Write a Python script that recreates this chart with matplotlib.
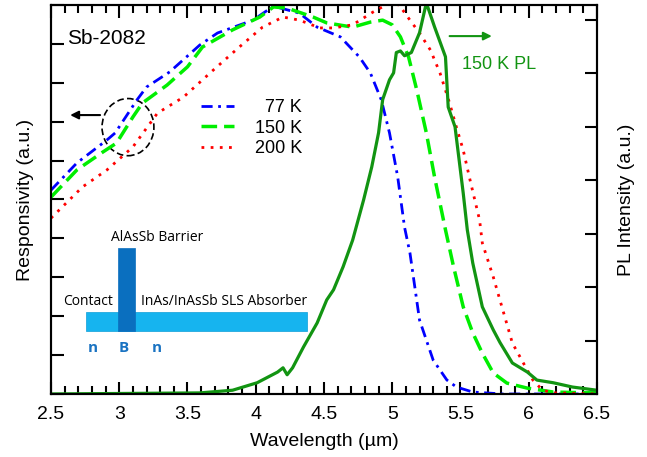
import matplotlib
matplotlib.use("Agg")
import matplotlib.pyplot as plt
from matplotlib.patches import Rectangle, Ellipse
from matplotlib.ticker import MultipleLocator

plt.rcParams['font.family'] = ['Liberation Sans', 'DejaVu Sans']

# responsivity spectra (a.u., left axis 0-10)
wl_77 = [2.5, 2.69, 2.91, 2.97, 3.13, 3.20, 3.37, 3.59, 3.72, 3.98, 4.13, 4.32, 4.45,
         4.62, 4.76, 4.84, 4.92, 4.98, 5.04, 5.09, 5.13, 5.20, 5.30, 5.40, 5.47, 5.59, 5.81, 6.5]
r_77 = [5.24, 5.94, 6.53, 6.71, 7.56, 7.89, 8.28, 8.97, 9.28, 9.61, 9.97, 9.79, 9.43,
        9.18, 8.66, 8.25, 7.56, 6.71, 5.58, 4.29, 3.62, 1.90, 0.87, 0.36, 0.18, 0.05, 0.0, 0.0]

wl_150 = [2.5, 2.69, 2.88, 2.98, 3.10, 3.17, 3.35, 3.50, 3.61, 3.83, 4.03, 4.13, 4.23, 4.42,
          4.52, 4.71, 4.84, 4.93, 5.00, 5.06, 5.12, 5.18, 5.25, 5.31, 5.39, 5.45, 5.52, 5.59,
          5.66, 5.74, 5.84, 5.99, 6.18, 6.43, 6.5]
r_150 = [5.06, 5.76, 6.22, 6.45, 7.12, 7.48, 7.94, 8.41, 8.92, 9.36, 9.69, 9.95, 9.92, 9.69,
         9.54, 9.43, 9.56, 9.61, 9.49, 9.18, 8.66, 7.81, 6.71, 5.58, 4.22, 3.26, 2.24, 1.57,
         1.05, 0.54, 0.28, 0.15, 0.05, 0.03, 0.05]

wl_200 = [2.5, 2.73, 2.91, 3.10, 3.28, 3.47, 3.69, 3.88, 4.05, 4.20, 4.32, 4.47, 4.57, 4.71,
          4.86, 4.98, 5.05, 5.13, 5.20, 5.28, 5.35, 5.42, 5.47, 5.52, 5.57, 5.64, 5.66, 5.74,
          5.81, 5.88, 5.96, 6.03, 6.10, 6.18, 6.5]
r_200 = [4.52, 5.32, 5.76, 6.35, 7.22, 7.63, 8.33, 8.92, 9.43, 9.69, 9.61, 9.41, 9.41, 9.49,
         9.82, 10.05, 10.0, 9.61, 9.28, 8.84, 8.25, 7.48, 6.86, 6.27, 5.50, 4.47, 3.88, 3.01,
         2.16, 1.31, 0.80, 0.36, 0.10, 0.03, 0.0]

# 150 K photoluminescence (a.u., right axis)
wl_pl = [2.5, 3.59, 3.83, 4.01, 4.16, 4.20, 4.23, 4.27, 4.35, 4.45, 4.52, 4.57, 4.64, 4.71,
         4.79, 4.85, 4.90, 4.93, 4.98, 5.01, 5.03, 5.06, 5.09, 5.14, 5.20, 5.25, 5.31, 5.39,
         5.41, 5.46, 5.52, 5.55, 5.59, 5.66, 5.74, 5.79, 5.88, 5.99, 6.06, 6.18, 6.32, 6.5]
pl = [0.0, 0.02, 0.07, 0.21, 0.41, 0.49, 0.36, 0.49, 0.88, 1.33, 1.76, 1.95, 2.38, 2.88,
      3.63, 4.25, 4.89, 5.51, 5.88, 6.01, 6.39, 6.42, 6.33, 6.39, 6.76, 7.32, 6.87, 6.31,
      5.37, 5.00, 3.76, 3.07, 2.45, 1.63, 1.20, 0.96, 0.58, 0.41, 0.26, 0.21, 0.13, 0.07]

fig = plt.figure(figsize=(6.47, 4.57), dpi=100)
ax = fig.add_axes([0.0788, 0.1379, 0.8439, 0.8512])
ax2 = ax.twinx()

ax.plot(wl_77, r_77, color='#0000ff', lw=2, ls=(0, (4, 2, 1, 2)), label='  77 K')
ax.plot(wl_150, r_150, color='#00ee00', lw=2.5, ls=(0, (4.5, 2)), label='150 K')
ax.plot(wl_200, r_200, color='#ff0000', lw=2, ls=(0, (1, 2.3)), label='200 K')
ax2.plot(wl_pl, pl, color='#129412', lw=2.3)

ax.set_xlim(2.5, 6.5)
ax.set_ylim(0, 10)
ax2.set_ylim(0, 7.28)
ax.xaxis.set_minor_locator(MultipleLocator(0.1))
ax.yaxis.set_major_locator(MultipleLocator(1))
ax2.yaxis.set_major_locator(MultipleLocator(1))
ax.set_xticks([2.5, 3, 3.5, 4, 4.5, 5, 5.5, 6, 6.5])
ax.set_xticklabels(['2.5', '3', '3.5', '4', '4.5', '5', '5.5', '6', '6.5'])
ax.tick_params(axis='x', which='major', direction='in', top=True, length=9, width=1.5,
               labelsize=14, pad=9)
ax.tick_params(axis='x', which='minor', direction='in', top=True, length=5.5, width=1.5)
ax.tick_params(axis='y', which='both', direction='in', length=9, width=1.5, labelleft=False)
ax2.tick_params(axis='y', which='both', direction='in', length=9, width=1.5, labelright=False)
for a in (ax, ax2):
    for s in a.spines.values():
        s.set_linewidth(1.5)

ax.set_xlabel('Wavelength (\u00b5m)', fontsize=14, labelpad=7)
ax.set_ylabel('Responsivity (a.u.)', fontsize=14, labelpad=12)
ax2.set_ylabel('PL Intensity (a.u.)', fontsize=14, labelpad=15)

leg = ax.legend(loc='upper left', bbox_to_anchor=(0.245, 0.80), frameon=False, fontsize=13,
                handlelength=1.8, handletextpad=1.2, labelspacing=0.2)

ax.text(2.62, 9.15, 'Sb-2082', fontsize=15, va='center')
ax.text(5.51, 8.46, '150 K PL', fontsize=13, color='#129412', va='center')

# arrows and circle
ax.annotate('', xy=(2.62, 7.17), xytext=(2.88, 7.17),
            arrowprops=dict(arrowstyle='-|>', color='black', lw=1.5, mutation_scale=12))
ax.annotate('', xy=(5.75, 9.2), xytext=(5.40, 9.2),
            arrowprops=dict(arrowstyle='-|>', color='#129412', lw=1.5, mutation_scale=12))
ax.add_patch(Ellipse((3.064, 6.86), 0.38, 1.47, fill=False, ls=(0, (4, 2)), lw=1.2, color='black'))

# device schematic inset
ax.add_patch(Rectangle((2.756, 1.62), 1.619, 0.49, facecolor='#16b4ef', edgecolor='#0e9fd8', lw=0.5, zorder=3))
ax.add_patch(Rectangle((2.991, 1.62), 0.124, 2.13, facecolor='#0a6fbf', edgecolor='#0a6fbf', lw=0.5, zorder=4))
ax.text(3.28, 4.01, 'AlAsSb Barrier', fontsize=10, family='Open Sans', ha='center', va='center')
ax.text(2.77, 2.37, 'Contact', fontsize=10, family='Open Sans', ha='center', va='center')
ax.text(3.767, 2.37, 'InAs/InAsSb SLS Absorber', fontsize=10, family='Open Sans', ha='center', va='center')
for xp, t in [(2.808, 'n'), (3.035, 'B'), (3.277, 'n')]:
    ax.text(xp, 1.18, t, fontsize=11, family='Open Sans', weight='bold', color='#1a73c2',
            ha='center', va='center')

fig.savefig('out.png', dpi=100)
